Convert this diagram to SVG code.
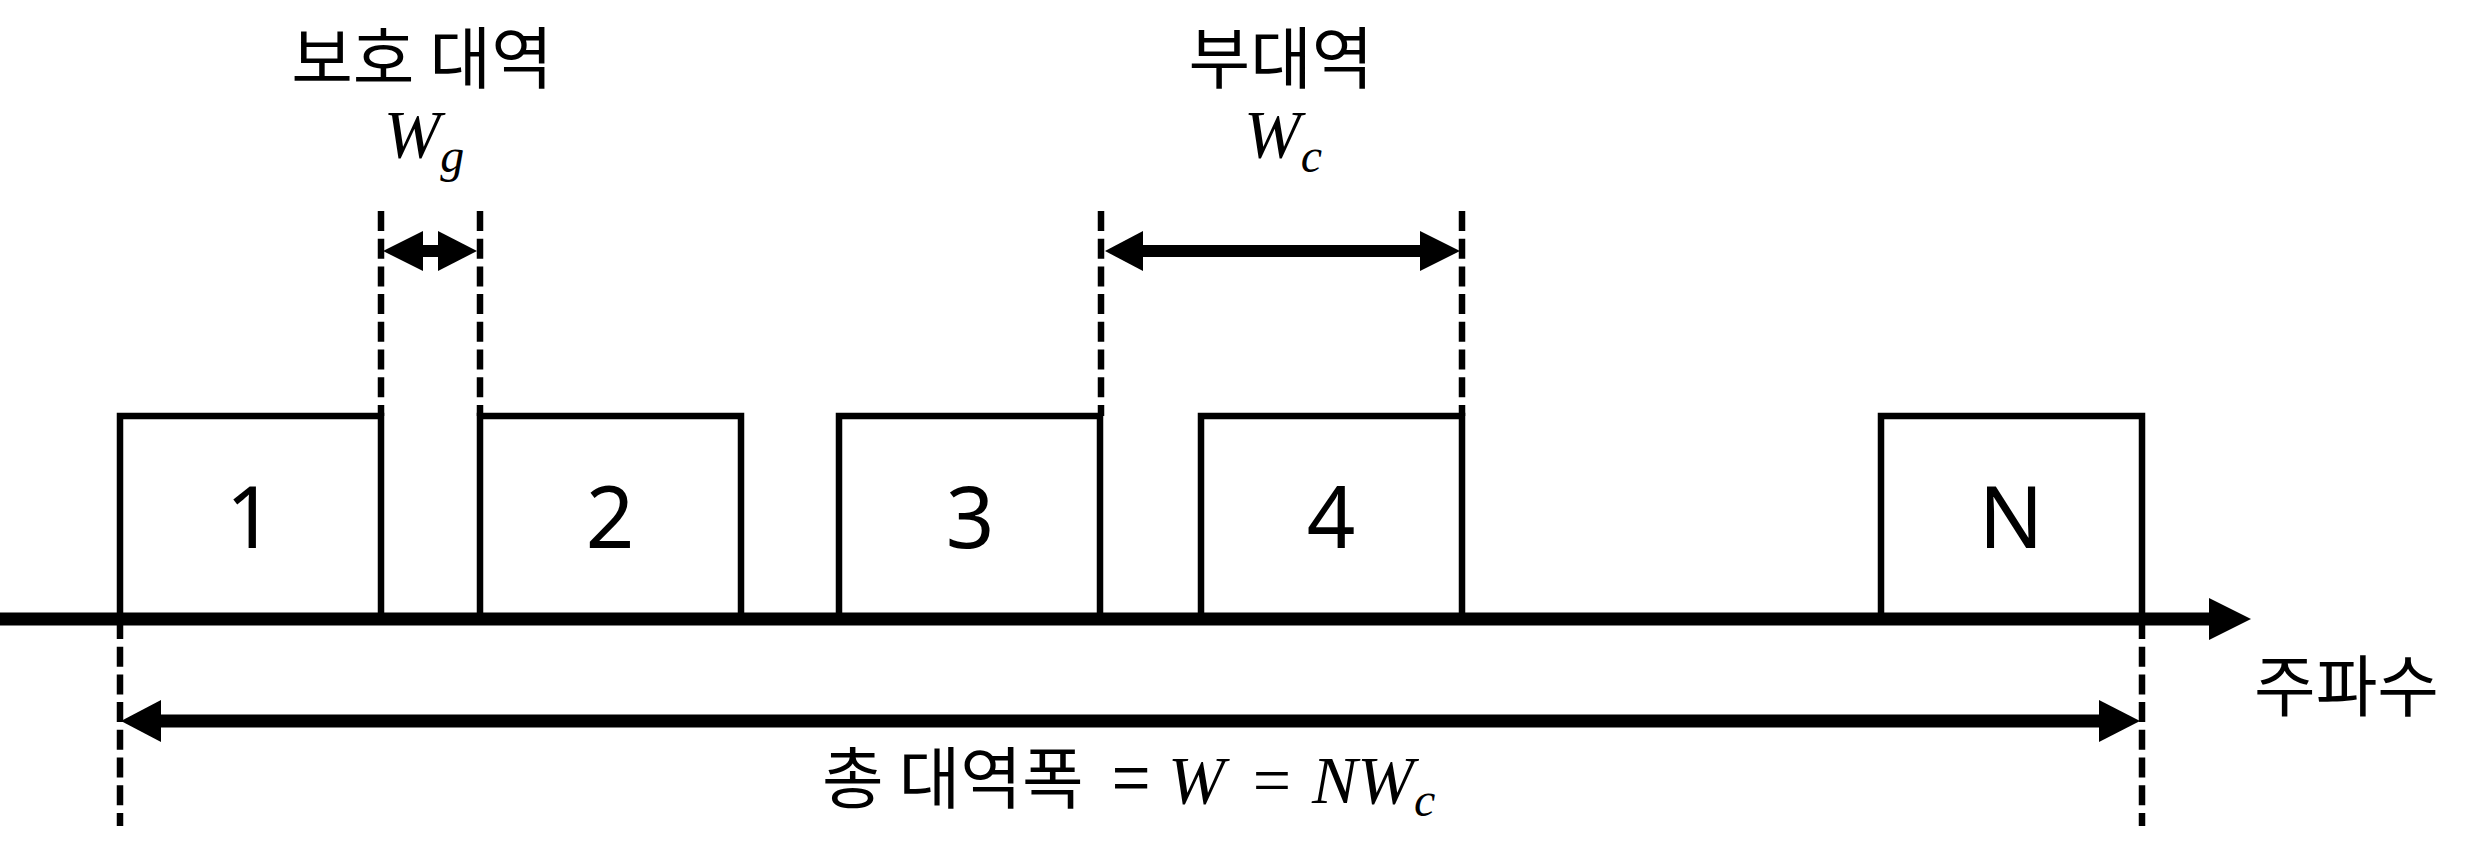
<svg xmlns="http://www.w3.org/2000/svg" width="2486" height="856" viewBox="0 0 2486 856">
<style>
.box{fill:none;stroke:#000;stroke-width:6.5}
.dash{stroke:#000;stroke-width:6.5;stroke-dasharray:20 7.7;fill:none}
.shaft{stroke:#000;fill:none}
.head{fill:#000}
.kr{font-family:"Noto Sans CJK KR","Noto Sans",sans-serif;font-size:67px;fill:#000}
.num{font-family:"Noto Sans","Noto Sans CJK KR",sans-serif;font-size:85px;fill:#000;text-anchor:middle}
.m{font-family:"Liberation Serif",serif;font-style:italic;font-size:68px;fill:#000}
.ms{font-family:"Liberation Serif",serif;font-style:italic;font-size:48px;fill:#000}
.mr{font-family:"Liberation Serif",serif;font-size:68px;fill:#000}
</style>
<rect width="2486" height="856" fill="#fff"/>
<g id="band1"><rect class="box" x="120" y="416" width="261" height="203"/><text class="num" x="250" y="548">1</text></g>
<g id="band2"><rect class="box" x="480" y="416" width="261" height="203"/><text class="num" x="610" y="548">2</text></g>
<g id="band3"><rect class="box" x="839" y="416" width="261" height="203"/><text class="num" x="970" y="548">3</text></g>
<g id="band4"><rect class="box" x="1201" y="416" width="261" height="203"/><text class="num" x="1331" y="548">4</text></g>
<g id="bandN"><rect class="box" x="1881" y="416" width="261" height="203"/><text class="num" x="2011" y="548">N</text></g>
<g id="connectors">
<line class="dash" x1="381" y1="211" x2="381" y2="416"/>
<line class="dash" x1="480" y1="211" x2="480" y2="416"/>
<line class="dash" x1="1101" y1="211" x2="1101" y2="416"/>
<line class="dash" x1="1462" y1="211" x2="1462" y2="416"/>
<line class="dash" x1="120" y1="619" x2="120" y2="826"/>
<line class="dash" x1="2142" y1="619" x2="2142" y2="826"/>
<line class="shaft" x1="0" y1="619" x2="2212" y2="619" stroke-width="13"/>
<polygon class="head" points="2209,598 2251,619 2209,640"/>
<line class="shaft" x1="158" y1="721" x2="2102" y2="721" stroke-width="13"/>
<polygon class="head" points="121,721 161,700 161,742"/>
<polygon class="head" points="2140,721 2099,700 2099,742"/>
<line class="shaft" x1="420" y1="251" x2="441" y2="251" stroke-width="12"/>
<polygon class="head" points="383,251 423,231 423,271"/>
<polygon class="head" points="477,251 438,231 438,271"/>
<line class="shaft" x1="1140" y1="251" x2="1423" y2="251" stroke-width="12"/>
<polygon class="head" points="1105,251 1143,231 1143,271"/>
<polygon class="head" points="1460,251 1420,231 1420,271"/>
</g>
<g id="label-guard">
<text class="kr" x="422" y="83" text-anchor="middle">보호 대역</text>
<text x="424" y="157" text-anchor="middle"><tspan class="m">W</tspan><tspan class="ms" dy="15">g</tspan></text>
</g>
<g id="label-sub">
<text class="kr" x="1281" y="83" text-anchor="middle">부대역</text>
<text x="1283" y="157" text-anchor="middle"><tspan class="m">W</tspan><tspan class="ms" dy="15">c</tspan></text>
</g>
<g id="label-freq"><text class="kr" x="2254" y="711">주파수</text></g>
<g id="label-total">
<text class="kr" x="822" y="803">총 대역폭</text>
<text class="kr" x="1131" y="803" text-anchor="middle">=</text>
<text class="m" x="1168" y="803">W</text>
<text class="mr" x="1272" y="803" text-anchor="middle">=</text>
<text x="1312" y="803"><tspan class="m">NW</tspan><tspan class="ms" dy="13">c</tspan></text>
</g>
</svg>
